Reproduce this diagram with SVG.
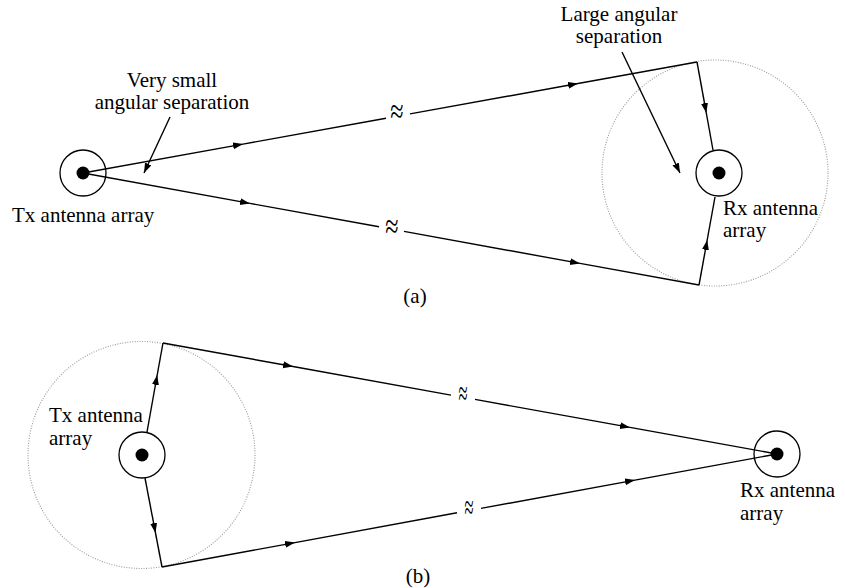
<svg xmlns="http://www.w3.org/2000/svg" width="845" height="588" viewBox="0 0 845 588">
<style>
  text { font-family: "Liberation Serif", "Times New Roman", serif; font-size: 21px; fill: #000; }
  .c { text-anchor: middle; }
  .ln { stroke: #000; stroke-width: 1.4; fill: none; }
  .ant { stroke: #000; stroke-width: 1.3; fill: none; }
  .dot { fill: #000; }
  .zone { stroke: #999; stroke-width: 1.1; fill: none; stroke-dasharray: 1 1.5; }
  .brk { font-size: 22px; }
</style>
<defs>
  <marker id="ah" markerUnits="userSpaceOnUse" markerWidth="12" markerHeight="8" refX="10" refY="3.5" orient="auto">
    <path d="M0,0 L10,3.5 L0,7 z" fill="#000"/>
  </marker>
</defs>
<rect width="845" height="588" fill="#fff"/>

<!-- coverage zones -->
<circle class="zone" cx="715" cy="173" r="113"/>
<circle class="zone" cx="141.5" cy="455" r="113.5"/>

<g id="connectors">
  <!-- (a) upper path -->
  <line class="ln" x1="83" y1="173" x2="243" y2="144.1" marker-end="url(#ah)"/>
  <line class="ln" x1="243" y1="144.1" x2="386" y2="118.2"/>
  <line class="ln" x1="410" y1="113.9" x2="578" y2="83.5" marker-end="url(#ah)"/>
  <line class="ln" x1="578" y1="83.5" x2="697" y2="62"/>
  <line class="ln" x1="697" y1="62" x2="706.3" y2="113" marker-end="url(#ah)"/>
  <line class="ln" x1="706.3" y1="113" x2="713" y2="150"/>
  <!-- (a) lower path -->
  <line class="ln" x1="83" y1="173" x2="250" y2="203.4" marker-end="url(#ah)"/>
  <line class="ln" x1="250" y1="203.4" x2="379" y2="226.8"/>
  <line class="ln" x1="404" y1="231.4" x2="580" y2="263.4" marker-end="url(#ah)"/>
  <line class="ln" x1="580" y1="263.4" x2="699" y2="285"/>
  <line class="ln" x1="699" y1="285" x2="707.2" y2="240" marker-end="url(#ah)"/>
  <line class="ln" x1="707.2" y1="240" x2="715" y2="197"/>
  <!-- (a) leader arrows -->
  <line class="ln" x1="170" y1="117" x2="144" y2="173" marker-end="url(#ah)"/>
  <line class="ln" x1="622" y1="52" x2="680" y2="173" marker-end="url(#ah)"/>

  <!-- (b) upper path -->
  <line class="ln" x1="147" y1="432" x2="157.2" y2="375" marker-end="url(#ah)"/>
  <line class="ln" x1="157.2" y1="375" x2="163" y2="343"/>
  <line class="ln" x1="163" y1="343" x2="293" y2="366.5" marker-end="url(#ah)"/>
  <line class="ln" x1="293" y1="366.5" x2="451" y2="395.1"/>
  <line class="ln" x1="475" y1="399.4" x2="630" y2="427.4" marker-end="url(#ah)"/>
  <line class="ln" x1="630" y1="427.4" x2="777" y2="454"/>
  <!-- (b) lower path -->
  <line class="ln" x1="145" y1="478" x2="155.5" y2="533" marker-end="url(#ah)"/>
  <line class="ln" x1="155.5" y1="533" x2="162" y2="567"/>
  <line class="ln" x1="162" y1="567" x2="295" y2="542.6" marker-end="url(#ah)"/>
  <line class="ln" x1="295" y1="542.6" x2="457" y2="512.8"/>
  <line class="ln" x1="481" y1="508.4" x2="635" y2="480.1" marker-end="url(#ah)"/>
  <line class="ln" x1="635" y1="480.1" x2="777" y2="454"/>

  <!-- break marks -->
  <text class="brk c" transform="translate(397,115) scale(1.1,1.6)" y="5">≈</text>
  <text class="brk c" transform="translate(392,230) scale(1.1,1.6)" y="5">≈</text>
  <text class="brk c" transform="translate(463,397) scale(0.75,1.6)" y="5">≈</text>
  <text class="brk c" transform="translate(469,511) scale(0.75,1.6)" y="5">≈</text>
</g>

<g id="tx-a">
  <circle class="ant" cx="83" cy="173" r="23"/>
  <circle class="dot" cx="83" cy="173" r="6.5"/>
  <text x="12" y="222">Tx antenna array</text>
</g>

<g id="rx-a">
  <circle class="ant" cx="719" cy="173" r="23"/>
  <circle class="dot" cx="719" cy="173" r="6.5"/>
  <text x="723" y="215">Rx antenna</text>
  <text x="723" y="237">array</text>
</g>

<g id="label-small">
  <text class="c" x="172" y="87">Very small</text>
  <text class="c" x="172" y="109">angular separation</text>
</g>

<g id="label-large">
  <text class="c" x="619" y="21">Large angular</text>
  <text class="c" x="619" y="43">separation</text>
</g>

<g id="tx-b">
  <circle class="ant" cx="142" cy="455" r="23"/>
  <circle class="dot" cx="142" cy="455" r="6.5"/>
  <text x="49" y="422">Tx antenna</text>
  <text x="49" y="445">array</text>
</g>

<g id="rx-b">
  <circle class="ant" cx="777" cy="454" r="23"/>
  <circle class="dot" cx="777" cy="454" r="6.5"/>
  <text x="740" y="497">Rx antenna</text>
  <text x="740" y="520">array</text>
</g>

<g id="captions">
  <text class="c" x="415" y="303">(a)</text>
  <text class="c" x="418" y="583">(b)</text>
</g>
</svg>
